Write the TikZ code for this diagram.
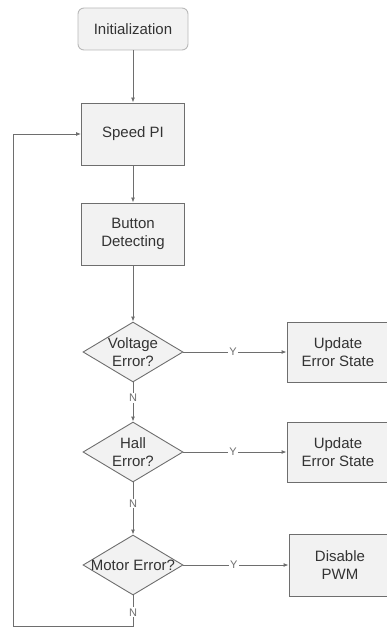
\documentclass[tikz,border=0pt]{standalone}
\usepackage{fontspec}
\setmainfont{Liberation Sans}
\usetikzlibrary{shapes.geometric,arrows.meta}
\definecolor{edge}{HTML}{6E6E6E}
\definecolor{boxfill}{HTML}{F2F2F2}
\definecolor{txt}{HTML}{333333}
\begin{document}
\begin{tikzpicture}[x=1pt,y=-1pt,
  every node/.style={text=txt,font=\fontsize{15}{18}\selectfont},
  proc/.style={draw=edge,fill=boxfill,minimum width=103pt,minimum height=62pt,align=center,inner sep=0pt,line width=0.9pt},
  startbox/.style={proc,rounded corners=6pt,minimum width=110pt,minimum height=42pt,draw=gray!55},
  sidebox/.style={proc,minimum width=102pt,minimum height=60pt},
  dec/.style={diamond,draw=edge,fill=boxfill,minimum width=100pt,minimum height=60pt,inner sep=0pt,line width=0.9pt},
  dectext/.style={align=center,inner sep=0pt},
  lbl/.style={fill=white,inner sep=1pt,font=\fontsize{11}{12}\selectfont,text=edge},
  line/.style={draw=edge,line width=0.9pt},
  arr/.style={line,-{Latex[length=5pt,width=4pt]}}]
\useasboundingbox (0,0) rectangle (387,628);
% main column
\node[startbox] (init) at (133,29) {Initialization};
\node[proc] (speed) at (133,134) {Speed PI};
\node[proc] (button) at (133,234) {Button\\Detecting};
\node[dec] (volt) at (133,352) {};
\node[dectext] (volttext) at (133,352) {Voltage\\Error?};
\node[dec] (hall) at (133,452) {};
\node[dectext] (halltext) at (133,452) {Hall\\Error?};
\node[dec] (motor) at (133,565) {};
\node[dectext] (motortext) at (133,565) {Motor Error?};
% side boxes
\node[sidebox] (ues1) at (338,352) {Update\\Error State};
\node[sidebox] (ues2) at (338,452) {Update\\Error State};
\node[sidebox,minimum height=62pt] (dis) at (340,565) {Disable\\PWM};
% connectors
\draw[arr] (init) -- (speed);
\draw[arr] (speed) -- (button);
\draw[arr] (button) -- (volt);
\draw[arr] (volt.south) -- node[lbl,pos=0.4]{N} (hall.north);
\draw[arr] (hall.south) -- node[lbl,pos=0.4]{N} (motor.north);
\draw[arr] (volt.east) -- node[lbl,pos=0.48]{Y} (ues1.west);
\draw[arr] (hall.east) -- node[lbl,pos=0.48]{Y} (ues2.west);
\draw[arr] (motor.east) -- node[lbl,pos=0.48]{Y} (dis.west);
% loop back
\coordinate (lb) at (133,626);
\coordinate (ll) at (13,626);
\coordinate (lt) at (13,134);
\draw[arr] (motor.south) -- node[lbl,pos=0.55]{N} (lb) -- (ll) -- (lt) -- (speed.west);
\end{tikzpicture}
\end{document}
